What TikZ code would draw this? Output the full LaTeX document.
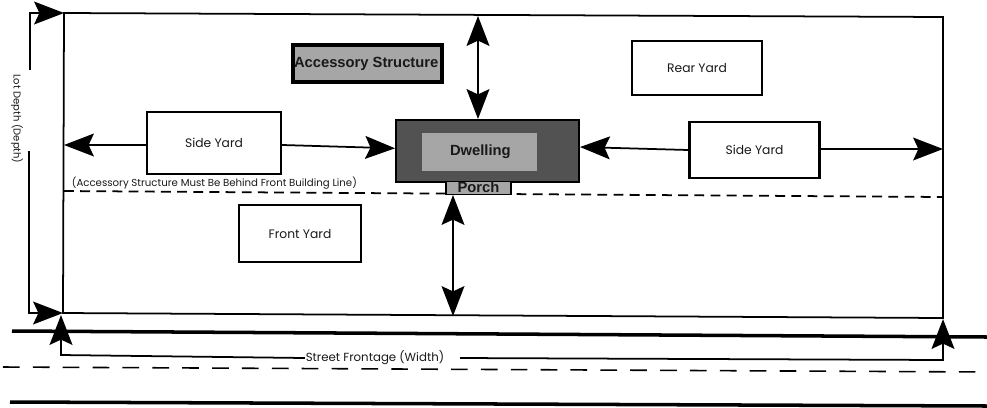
\documentclass[tikz,border=0pt]{standalone}
\usepackage{fontspec}
\setmainfont{Poppins}
\newfontfamily\boldsans{Liberation Sans}
\usetikzlibrary{arrows.meta,calc}

\tikzset{
  yardbox/.style={draw,line width=1.2pt,fill=white,inner sep=0pt,font=\fontsize{7}{8}\selectfont,text=black!90},
  housebox/.style={draw,fill=black!35,inner sep=0pt,font=\boldsans\bfseries\fontsize{8.4}{10}\selectfont,text=black!90},
  noteline/.style={font=\fontsize{5.8}{7}\selectfont,text=black!90,inner sep=0pt},
  lotline/.style={line width=1pt},
  roadline/.style={line width=2pt},
  dashline/.style={line width=0.9pt,dash pattern=on 9.5pt off 7.5pt},
  buildline/.style={line width=1pt,dash pattern=on 5.6pt off 3.6pt}
}

\begin{document}
\begin{tikzpicture}[x=0.02cm,y=-0.02cm,
    >={Stealth[length=17pt,width=13pt,inset=3pt]},lotline]
  \useasboundingbox (0,0) rectangle (987,407);

  % the lot
  \coordinate (lotnw) at (64,13);
  \coordinate (lotne) at (943,17);
  \coordinate (lotse) at (943,318);
  \coordinate (lotsw) at (63,313);
  \draw (lotnw) -- (lotne) -- (lotse) -- (lotsw) -- cycle;

  % the road
  \coordinate (road1a) at (12,331);
  \coordinate (road1b) at (987,337);
  \coordinate (road2a) at (3,367);
  \coordinate (road2b) at (987,372);
  \coordinate (road3a) at (10,402);
  \coordinate (road3b) at (987,406);
  \draw[roadline] (road1a) -- (road1b);
  \draw[dashline] (road2a) -- (road2b);
  \draw[roadline] (road3a) -- (road3b);

  % front building line
  \coordinate (linew) at (64,191);
  \coordinate (linee) at (943,197);
  \draw[buildline] (linew) -- (linee);

  % buildings
  \node[housebox,line width=1.2pt,fill=black!68,minimum width=104pt,minimum height=35pt] (house) at (487.5,151) {};
  \node[housebox,draw=none,minimum width=65pt,minimum height=22pt] (dwell) at (479.5,152) {\hspace{1pt}Dwelling};
  \node[housebox,line width=0.8pt,minimum width=37pt,minimum height=7pt] (porch) at (478.5,188) {\raisebox{1pt}{Porch}};
  \node[housebox,line width=2.2pt,minimum width=85pt,minimum height=21pt] (acc) at (367.5,63.5) {\hspace{-1.5pt}Accessory Structure};

  % yards
  \node[yardbox,minimum width=76pt,minimum height=35pt] (sideL) at (214,143) {Side Yard};
  \node[yardbox,minimum width=74pt,minimum height=31pt] (rear) at (697,68) {Rear Yard};
  \node[yardbox,minimum width=74pt,minimum height=32pt] (sideR) at (754.5,150) {Side Yard};
  \node[yardbox,minimum width=69pt,minimum height=32pt] (front) at (300,233.5) {Front Yard};

  \node[noteline,anchor=west] (note) at (71,183) {(Accessory Structure Must Be Behind Front Building Line)};

  % setbacks
  \coordinate (sideLend) at (64,145);
  \coordinate (sideRend) at (943,149);
  \coordinate (houseR) at (580,147);
  \coordinate (reartop) at (478,16);
  \coordinate (frontbot) at (453,316);
  \coordinate (porchpt) at (453,195);
  \coordinate (housetop) at (478,119);
  \draw[->] (sideL.west |- sideLend) -- (sideLend);
  \draw[->] (sideL) -- (house);
  \draw[->] (sideR.west) -- (houseR);
  \draw[->] (sideR.east |- sideRend) -- (sideRend);
  \draw[<->] (reartop) -- (housetop);
  \draw[<->] (porchpt) -- (frontbot);

  % lot depth
  \node[noteline,font=\fontsize{5.7}{7}\selectfont,rotate=-90] (depth) at (17,119) {Lot Depth (Depth)};
  \coordinate (depthtop) at (30,70);
  \coordinate (depthbot) at (29,151);
  \draw[->] (depthtop) -- (30,13) -- (lotnw);
  \draw[->] (depthbot) -- (29,313) -- (lotsw);

  % street frontage
  \node[noteline,font=\fontsize{6.7}{8}\selectfont] (street) at (375,358) {Street Frontage (Width)};
  \coordinate (streetgap) at (460,358);
  \coordinate (streetL) at (61,355);
  \coordinate (streetR) at (943,360);
  \draw[->] (street.west) -- (streetL) -- (61,315);
  \draw[->] (streetgap) -- (streetR) -- (943,319);
\end{tikzpicture}
\end{document}
